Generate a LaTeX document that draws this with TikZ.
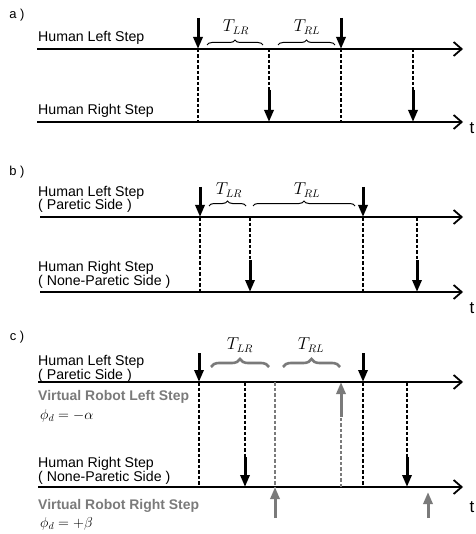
\documentclass[tikz,border=0pt]{standalone}
\usepackage{fontspec}
\setsansfont{Liberation Sans}
\usetikzlibrary{arrows.meta,decorations.pathreplacing}
\definecolor{robotgray}{RGB}{122,122,122}
\newcommand\tightlines{\lineskiplimit-20pt\relax}

\tikzset{
  leftline/.style={line width=2.7bp,-{Straight Barb[length=8bp,width=14bp,line width=1.8bp]}},
  rightline/.style={line width=1.9bp,-{Straight Barb[length=8bp,width=14bp,line width=1.8bp]}},
  steparrow/.style={line width=3bp,-{Triangle[length=12bp,width=9bp]}},
  robotarrow/.style={robotgray,line width=3bp,-{Triangle[length=12bp,width=9bp]}},
  dashline/.style={line width=1.9bp,dash pattern=on 3.5bp off 2bp},
  robotdash/.style={dashline,robotgray},
  thinbrace/.style={decorate,decoration={brace,amplitude=5bp},line width=1bp},
  robotbrace/.style={decorate,decoration={brace,amplitude=8bp},robotgray,line width=2.6bp},
  steplabel/.style={anchor=base west,inner sep=0pt,align=left,
    font=\sffamily\fontsize{14.2}{13.5}\selectfont\tightlines},
  robotlabel/.style={anchor=west,inner sep=0pt,text=robotgray,font=\sffamily\bfseries\fontsize{14}{14}\selectfont},
  tagtext/.style={inner sep=0pt,font=\sffamily\fontsize{13}{13}\selectfont},
  tlabel/.style={inner sep=0pt,font=\sffamily\fontsize{17}{17}\selectfont},
  mathlabel/.style={inner sep=0pt,font=\fontsize{16}{16}\selectfont},
  phaselabel/.style={anchor=west,inner sep=0pt,font=\fontsize{14}{14}\selectfont}
}

\begin{document}
\begin{tikzpicture}[x=1bp,y=-1bp]
  \useasboundingbox (0,0) rectangle (476,534);

  % a)
  \begin{scope}
    \node[tagtext] (a-tag) at (17,15) {a )};
    \node[steplabel] (a-left) at (38,42) {Human Left Step};
    \node[steplabel] (a-right) at (38,115) {Human Right Step};
    \coordinate (a-l0) at (37,49);  \coordinate (a-l1) at (463,49);
    \coordinate (a-r0) at (37,122); \coordinate (a-r1) at (463,122);
    \draw[leftline] (a-l0) -- (a-l1);
    \draw[rightline] (a-r0) -- (a-r1);
    \node[tlabel] (a-t) at (472,128) {t};
    \coordinate (a1u) at (198,18); \coordinate (a1l) at (198,49); \coordinate (a1r) at (198,122);
    \coordinate (a2l) at (269,49); \coordinate (a2m) at (269,90); \coordinate (a2r) at (269,122);
    \coordinate (a3u) at (341,18); \coordinate (a3l) at (341,49); \coordinate (a3r) at (341,122);
    \coordinate (a4l) at (413,49); \coordinate (a4m) at (413,90); \coordinate (a4r) at (413,122);
    \draw[dashline] (a1l) -- (a1r);
    \draw[dashline] (a2l) -- (a2m);
    \draw[dashline] (a3l) -- (a3r);
    \draw[dashline] (a4l) -- (a4m);
    \draw[steparrow] (a1u) -- (a1l);
    \draw[steparrow] (a2m) -- (a2r);
    \draw[steparrow] (a3u) -- (a3l);
    \draw[steparrow] (a4m) -- (a4r);
    \coordinate (a-lr0) at (207,45); \coordinate (a-lr1) at (263,45);
    \coordinate (a-rl0) at (278,45); \coordinate (a-rl1) at (335,45);
    \draw[thinbrace] (a-lr0) -- (a-lr1);
    \draw[thinbrace] (a-rl0) -- (a-rl1);
    \node[mathlabel] (a-tlr) at (236,27) {$T_{LR}$};
    \node[mathlabel] (a-trl) at (307,27) {$T_{RL}$};
  \end{scope}

  % b)
  \begin{scope}
    \node[tagtext] (b-tag) at (17,172) {b )};
    \node[steplabel] (b-left) at (38,210) {Human Left Step\\( Paretic Side )};
    \node[steplabel] (b-right) at (38,285) {Human Right Step\\( None-Paretic Side )};
    \coordinate (b-l0) at (40,217); \coordinate (b-l1) at (463,217);
    \coordinate (b-r0) at (40,292); \coordinate (b-r1) at (463,292);
    \draw[leftline] (b-l0) -- (b-l1);
    \draw[rightline] (b-r0) -- (b-r1);
    \node[tlabel] (b-t) at (472,308) {t};
    \coordinate (b1u) at (200,187); \coordinate (b1l) at (200,217); \coordinate (b1r) at (200,292);
    \coordinate (b2l) at (250,217); \coordinate (b2m) at (250,260); \coordinate (b2r) at (250,292);
    \coordinate (b3u) at (363,187); \coordinate (b3l) at (363,217); \coordinate (b3r) at (363,292);
    \coordinate (b4l) at (417,217); \coordinate (b4m) at (417,260); \coordinate (b4r) at (417,292);
    \draw[dashline] (b1l) -- (b1r);
    \draw[dashline] (b2l) -- (b2m);
    \draw[dashline] (b3l) -- (b3r);
    \draw[dashline] (b4l) -- (b4m);
    \draw[steparrow] (b1u) -- (b1l);
    \draw[steparrow] (b2m) -- (b2r);
    \draw[steparrow] (b3u) -- (b3l);
    \draw[steparrow] (b4m) -- (b4r);
    \coordinate (b-lr0) at (209,206); \coordinate (b-lr1) at (246,206);
    \coordinate (b-rl0) at (253,206); \coordinate (b-rl1) at (355,206);
    \draw[thinbrace] (b-lr0) -- (b-lr1);
    \draw[thinbrace] (b-rl0) -- (b-rl1);
    \node[mathlabel] (b-tlr) at (229,190) {$T_{LR}$};
    \node[mathlabel] (b-trl) at (307,190) {$T_{RL}$};
  \end{scope}

  % c)
  \begin{scope}
    \node[tagtext] (c-tag) at (17,337) {c )};
    \node[steplabel] (c-left) at (38,379) {Human Left Step\\( Paretic Side )};
    \node[steplabel] (c-right) at (38,481) {Human Right Step\\( None-Paretic Side )};
    \node[robotlabel] (c-rleft) at (38,397) {Virtual Robot Left Step};
    \node[robotlabel] (c-rright) at (38,506) {Virtual Robot Right Step};
    \node[phaselabel] (c-alpha) at (40,416) {$\phi_d=-\alpha$};
    \node[phaselabel] (c-beta) at (40,524) {$\phi_d=+\beta$};
    \coordinate (c-l0) at (38,382); \coordinate (c-l1) at (463,382);
    \coordinate (c-r0) at (38,487); \coordinate (c-r1) at (463,487);
    \draw[leftline] (c-l0) -- (c-l1);
    \draw[rightline] (c-r0) -- (c-r1);
    \node[tlabel] (c-t) at (472,507) {t};
    \coordinate (c1u) at (199,353); \coordinate (c1l) at (199,382); \coordinate (c1r) at (199,487);
    \coordinate (c2l) at (245,382); \coordinate (c2m) at (245,457); \coordinate (c2r) at (245,487);
    \coordinate (c3u) at (363,353); \coordinate (c3l) at (363,382); \coordinate (c3r) at (363,487);
    \coordinate (c4l) at (407,382); \coordinate (c4m) at (407,457); \coordinate (c4r) at (407,487);
    \coordinate (g1l) at (275,382); \coordinate (g1r) at (275,487); \coordinate (g1d) at (275,518);
    \coordinate (g2l) at (341,382); \coordinate (g2m) at (341,417); \coordinate (g2r) at (341,487);
    \coordinate (g3u) at (428,492); \coordinate (g3d) at (428,518);
    \draw[dashline] (c1l) -- (c1r);
    \draw[dashline] (c2l) -- (c2m);
    \draw[dashline] (c3l) -- (c3r);
    \draw[dashline] (c4l) -- (c4m);
    \draw[robotdash] (g1l) -- (g1r);
    \draw[robotdash] (g2r) -- (g2m);
    \draw[steparrow] (c1u) -- (c1l);
    \draw[steparrow] (c2m) -- (c2r);
    \draw[steparrow] (c3u) -- (c3l);
    \draw[steparrow] (c4m) -- (c4r);
    \draw[robotarrow] (g1d) -- (g1r);
    \draw[robotarrow] (g2m) -- (g2l);
    \draw[robotarrow] (g3d) -- (g3u);
    \coordinate (c-lr0) at (211,367); \coordinate (c-lr1) at (269,367);
    \coordinate (c-rl0) at (283,367); \coordinate (c-rl1) at (340,367);
    \draw[robotbrace] (c-lr0) -- (c-lr1);
    \draw[robotbrace] (c-rl0) -- (c-rl1);
    \node[mathlabel] (c-tlr) at (240,345) {$T_{LR}$};
    \node[mathlabel] (c-trl) at (311,345) {$T_{RL}$};
  \end{scope}
\end{tikzpicture}
\end{document}
